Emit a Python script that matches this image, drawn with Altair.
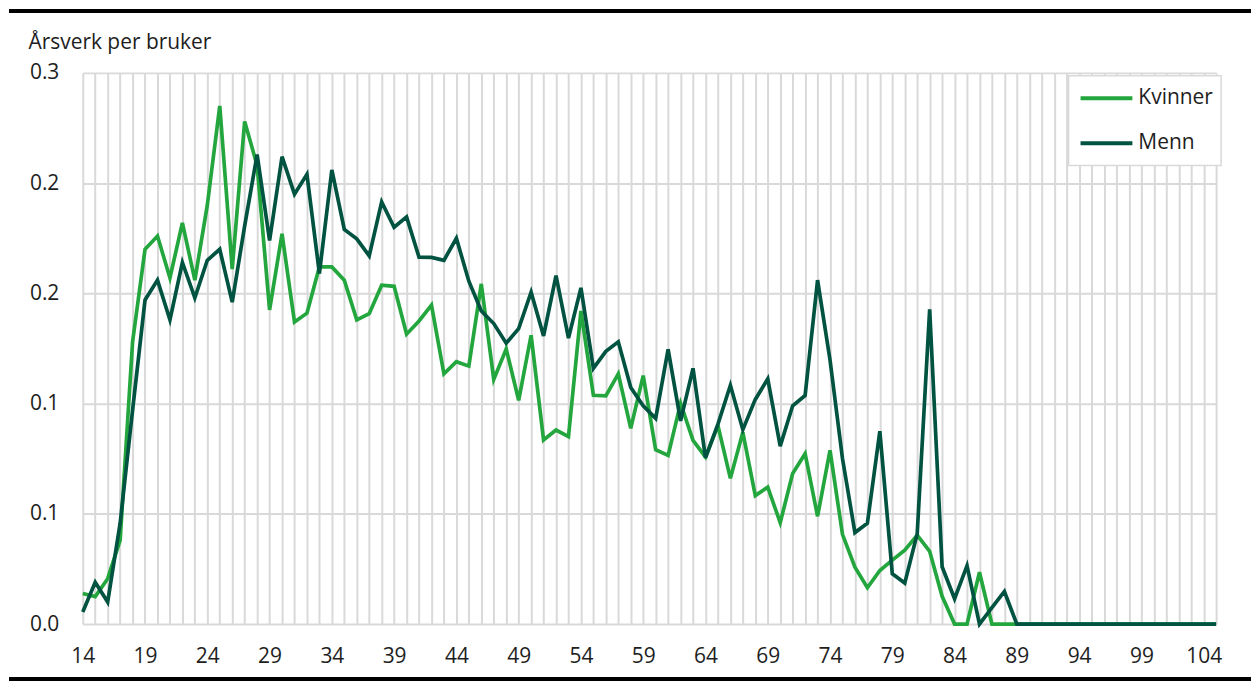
import altair as alt
import pandas as pd

ages = list(range(14, 106))

kvinner = [
    0.0139, 0.0125, 0.0206, 0.038, 0.128, 0.170, 0.176, 0.157, 0.182, 0.156,
    0.190, 0.235, 0.161, 0.228, 0.208, 0.1425, 0.177, 0.137, 0.141, 0.162,
    0.162, 0.156, 0.138, 0.1408, 0.1537, 0.1532, 0.1315, 0.1375, 0.1447, 0.1135,
    0.119, 0.117, 0.1543, 0.111, 0.1248, 0.1015, 0.131, 0.0835, 0.088, 0.085,
    0.142, 0.1038, 0.1035, 0.1135, 0.0888, 0.1127, 0.0791, 0.0765, 0.1001, 0.0833,
    0.0758, 0.090, 0.0661, 0.087, 0.0583, 0.0621, 0.046, 0.0683, 0.0773, 0.0489,
    0.0788, 0.0407, 0.0258, 0.0165, 0.0243, 0.0290, 0.0335, 0.0403, 0.033, 0.0126,
    0.0, 0.0, 0.0235, 0.0, 0.0, 0.0, 0.0, 0.0, 0.0, 0.0,
    0.0, 0.0, 0.0, 0.0, 0.0, 0.0, 0.0, 0.0, 0.0, 0.0,
    0.0, 0.0,
]

menn = [
    0.0055, 0.019, 0.010, 0.0457, 0.097, 0.147, 0.156, 0.138, 0.164, 0.148,
    0.165, 0.170, 0.146, 0.1806, 0.213, 0.174, 0.212, 0.195, 0.204, 0.159,
    0.206, 0.179, 0.1747, 0.167, 0.1915, 0.180, 0.1847, 0.1664, 0.1663, 0.165,
    0.175, 0.1555, 0.142, 0.1363, 0.1274, 0.134, 0.1505, 0.1307, 0.158, 0.1297,
    0.1525, 0.116, 0.1237, 0.128, 0.1073, 0.099, 0.0933, 0.1246, 0.0922, 0.116,
    0.0754, 0.0907, 0.1083, 0.0882, 0.1019, 0.1112, 0.0807, 0.099, 0.1037, 0.156,
    0.1198, 0.0751, 0.0415, 0.0457, 0.0875, 0.0228, 0.0186, 0.041, 0.1428, 0.026,
    0.0115, 0.0265, 0.0, 0.0075, 0.0148, 0.0, 0.0, 0.0, 0.0, 0.0,
    0.0, 0.0, 0.0, 0.0, 0.0, 0.0, 0.0, 0.0, 0.0, 0.0,
    0.0, 0.0,
]

series_names = ["Kvinner", "Menn"]
series_colors = ["#23a63d", "#005340"]
x_tick_labels = [14, 19, 24, 29, 34, 39, 44, 49, 54, 59, 64, 69, 74, 79, 84, 89, 94, 99, 104]
y_ticks = [0.0, 0.05, 0.10, 0.15, 0.20, 0.25]
y_title = "Årsverk per bruker"

rows = []
for name, vals in zip(series_names, [kvinner, menn]):
    for a, v in zip(ages, vals):
        rows.append({"Alder": a, "Verdi": v, "Kjønn": name})
df = pd.DataFrame(rows)

FONT = "Open Sans"
FS = 21
TXT = "#1e1e1e"
label_test = " || ".join(f"datum.value == {v}" for v in x_tick_labels)

lines = alt.Chart(df).mark_line(strokeWidth=3.7, strokeJoin="miter").encode(
    x=alt.X(
        "Alder:Q",
        scale=alt.Scale(domain=[ages[0], ages[-1]], nice=False, zero=False),
        axis=alt.Axis(
            values=ages,
            labelExpr=f"({label_test}) ? datum.label : ''",
            labelOverlap=False,
            labelFlush=False,
            title=None,
            domain=False,
            ticks=False,
            tickSize=0,
            labelPadding=22,
            grid=True,
        ),
    ),
    y=alt.Y(
        "Verdi:Q",
        scale=alt.Scale(domain=[0, 0.25], nice=False),
        axis=alt.Axis(
            values=y_ticks,
            labelExpr="format(round(datum.value * 10) / 10, '.1f')",
            title=y_title,
            titleAngle=0,
            titleX=-55,
            titleY=-24,
            titleAlign="left",
            titleBaseline="alphabetic",
            domain=False,
            ticks=False,
            tickSize=0,
            labelPadding=24,
            labelFlush=False,
            grid=True,
        ),
    ),
    color=alt.Color(
        "Kjønn:N",
        scale=alt.Scale(domain=series_names, range=series_colors),
        legend=alt.Legend(
            title=" ",
            titleOrient="right",
            titleFontSize=1,
            titlePadding=8,
            orient="none",
            legendX=989,
            legendY=3,
            symbolType="stroke",
            symbolStrokeWidth=4,
            symbolSize=2704,
            symbolOffset=10,
            labelOffset=4,
            clipHeight=45,
            rowPadding=0,
            padding=0,
            strokeColor="#d9d9d9",
            fillColor="white",
        ),
    ),
)

top_rule = alt.Chart(df).mark_rule(color="black", strokeWidth=3.5).encode(
    x=alt.value(-73.25), x2=alt.value(1171.25), y=alt.value(-62.25)
)
bottom_rule = alt.Chart(df).mark_rule(color="black", strokeWidth=3.5).encode(
    x=alt.value(-73.25), x2=alt.value(1171.25), y=alt.value(607.75)
)

chart = (
    alt.layer(lines, top_rule, bottom_rule)
    .properties(width=1137, height=553, padding=0)
    .configure_view(stroke=None)
    .configure_axis(
        gridColor="#d9d9d9",
        gridWidth=2,
        labelFont=FONT,
        labelFontSize=FS,
        labelColor=TXT,
        titleFont=FONT,
        titleFontSize=FS,
        titleFontWeight="normal",
        titleColor=TXT,
    )
    .configure_legend(
        labelFont=FONT,
        labelFontSize=FS,
        labelColor=TXT,
        strokeWidth=1.5,
    )
)

chart.save("out.html", embed_options={"renderer": "svg", "actions": False})
